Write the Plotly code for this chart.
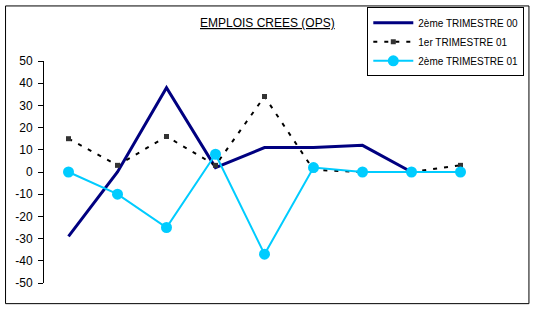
import plotly.graph_objects as go

# Data
categories = [1, 2, 3, 4, 5, 6, 7, 8, 9]
t2_2000 = [-29, 0, 38, 2, 11, 11, 12, 0, None]
t1_2001 = [15, 3, 16, 3, 34, 1, 0, 0, 3]
t2_2001 = [0, -10, -25, 8, -37, 2, 0, 0, 0]
y_ticks = [50, 40, 30, 20, 10, 0, -10, -20, -30, -40, -50]

W, H = 536, 310
# plot area in pixels
PL, PR, PT, PB = 44, 485.5, 60.7, 283.3

def px_x(x):
    return (x - PL) / (PR - PL)

def px_y(y):
    return (PB - y) / (PB - PT)

FONT = "Liberation Sans, Arial, sans-serif"

fig = go.Figure()
fig.add_trace(go.Scatter(
    x=categories, y=t2_2000, name="2ème TRIMESTRE 00", mode="lines",
    line=dict(color="#000080", width=3), connectgaps=False))
fig.add_trace(go.Scatter(
    x=categories, y=t1_2001, name="1er TRIMESTRE 01", mode="lines+markers",
    line=dict(color="#000000", width=2, dash="4px,7px"),
    marker=dict(symbol="square", size=5, color="#333333")))
fig.add_trace(go.Scatter(
    x=categories, y=t2_2001, name="2ème TRIMESTRE 01", mode="lines+markers",
    line=dict(color="#00CCFF", width=2, dash="solid"),
    marker=dict(symbol="circle", size=11, color="#00CCFF")))

fig.update_layout(
    width=W, height=H,
    margin=dict(l=PL, r=W - PR, t=PT, b=H - PB, pad=0, autoexpand=False),
    paper_bgcolor="white", plot_bgcolor="white",
    font=dict(family=FONT, color="black", size=12),
    showlegend=True,
    legend=dict(
        x=367.3 / W, y=1 - 7.3 / H, xanchor="left", yanchor="top",
        xref="container", yref="container",
        bordercolor="black", borderwidth=1, bgcolor="white",
        font=dict(family=FONT, size=10, color="black"),
        itemwidth=40, tracegroupgap=0,
    ),
    xaxis=dict(
        range=[0.5, 9.5], showgrid=False, zeroline=False, showline=False,
        showticklabels=False, ticks="", fixedrange=True,
    ),
    yaxis=dict(
        range=[-50, 50], tickvals=y_ticks, ticktext=[str(v) for v in y_ticks],
        showgrid=False, zeroline=False, showline=True, linecolor="black",
        linewidth=1, ticks="outside", ticklen=5, tickcolor="black",
        tickfont=dict(family=FONT, size=12, color="black"),
        ticklabelstandoff=3, fixedrange=True,
    ),
    annotations=[dict(
        text="<u>EMPLOIS CREES (OPS)</u>", x=px_x(268), y=px_y(23),
        xref="paper", yref="paper", xanchor="center", yanchor="middle",
        showarrow=False, font=dict(family=FONT, size=12, color="black"),
    )],
    shapes=[dict(
        type="rect", xref="paper", yref="paper",
        x0=px_x(5.5), x1=px_x(529.5), y0=px_y(304), y1=px_y(5.5),
        line=dict(color="black", width=1), fillcolor="rgba(0,0,0,0)",
        layer="below",
    )],
)

fig.write_html("out.html")
